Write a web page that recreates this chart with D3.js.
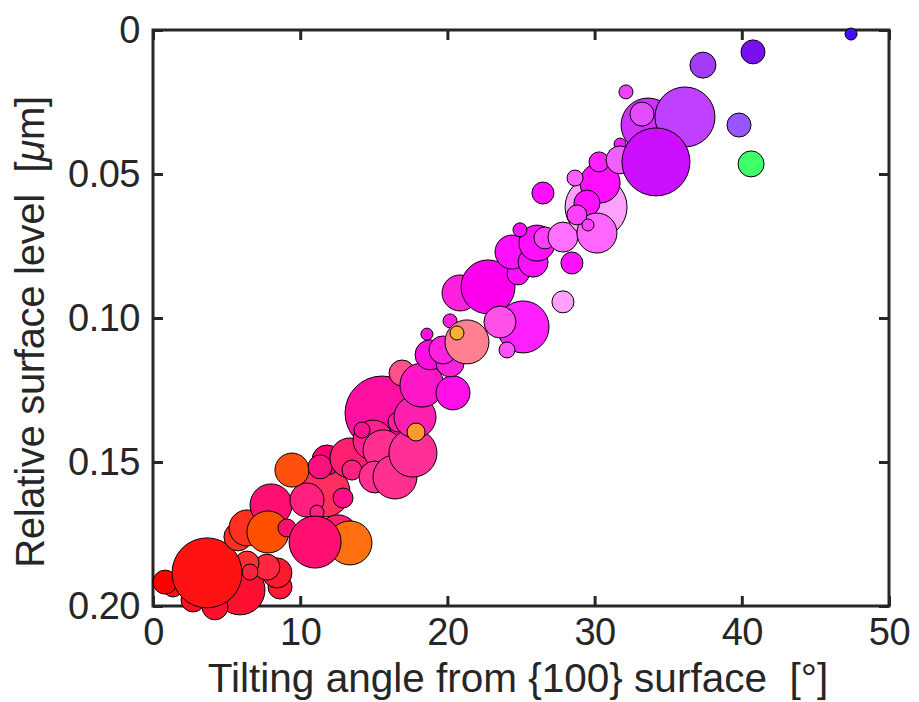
<!DOCTYPE html>
<html>
<head>
<meta charset="utf-8">
<script src="https://cdn.jsdelivr.net/npm/d3@7"></script>
<style>
  html, body { margin: 0; padding: 0; background: #fff; }
  svg { display: block; }
</style>
</head>
<body>
<svg id="chart" width="919" height="702"></svg>
<script>
// ---- data ----
const xTicks = [0, 10, 20, 30, 40, 50];
const yTicks = [0, 0.05, 0.10, 0.15, 0.20];
const yTickLabels = ["0", "0.05", "0.10", "0.15", "0.20"];
const xTitle = "Tilting angle from {100} surface  [°]";
const yTitleParts = ["Relative surface level  [", "μ", "m]"];

// tilting angle (deg)
const angles = [
  5.91, 4.21, 8.63, 8.42, 7.74, 6.39, 6.59, 1.36, 0.82, 2.72,
  3.67, 5.77, 6.39, 8.02, 11.68, 10.46, 12.91, 11.14, 12.57, 13.38,
  7.81, 9.10, 11.01, 9.44, 11.82, 11.35, 13.38, 13.52, 15.56, 14.95,
  14.20, 15.63, 15.08, 16.44, 17.66, 16.64, 17.80, 17.87, 16.92, 18.27,
  20.38, 18.82, 20.18, 19.70, 18.61, 20.18, 21.33, 20.65, 20.86, 22.01,
  22.76, 25.14, 24.05, 23.57, 27.85, 24.80, 24.39, 25.82, 26.09, 26.63,
  24.93, 27.85, 28.46, 26.49, 30.10, 30.37, 30.30, 28.67, 29.48, 30.16,
  28.80, 29.55, 31.73, 31.73, 33.63, 33.22, 34.71, 36.14, 34.17, 32.13,
  37.36, 40.76, 47.42, 39.81, 40.63
];
// relative surface level (um)
const levels = [
  0.1944, 0.2003, 0.1934, 0.1885, 0.1865, 0.1851, 0.1882, 0.1934, 0.1917, 0.1979,
  0.1885, 0.1760, 0.1729, 0.1649, 0.1604, 0.1632, 0.1625, 0.1674, 0.1753, 0.1781,
  0.1743, 0.1729, 0.1778, 0.1528, 0.1493, 0.1517, 0.1486, 0.1528, 0.1330, 0.1424,
  0.1389, 0.1458, 0.1552, 0.1552, 0.1469, 0.1361, 0.1344, 0.1396, 0.1191, 0.1233,
  0.1260, 0.1128, 0.1156, 0.1111, 0.1056, 0.1010, 0.1083, 0.1052, 0.0913, 0.0858,
  0.0892, 0.1031, 0.1111, 0.1014, 0.0944, 0.0847, 0.0771, 0.0806, 0.0740, 0.0722,
  0.0694, 0.0719, 0.0809, 0.0566, 0.0615, 0.0531, 0.0458, 0.0514, 0.0601, 0.0705,
  0.0642, 0.0677, 0.0396, 0.0451, 0.0330, 0.0292, 0.0333, 0.0302, 0.0458, 0.0215,
  0.0122, 0.0076, 0.0014, 0.0330, 0.0465
];
// grain size (arbitrary units)
const sizes = [
  25, 13, 12, 15, 13, 12, 8, 10, 12, 12,
  35, 14, 18, 21, 25, 17, 10, 7, 20, 22,
  21, 9, 26, 17, 15, 12, 20, 10, 37, 20,
  8, 20, 16, 22, 24, 10, 21, 9, 13, 22,
  17, 15, 14, 14, 6, 7, 22, 7, 18, 12,
  27, 26, 8, 16, 11, 11, 17, 15, 18, 11,
  7, 15, 11, 11, 31, 20, 10, 8, 13, 20,
  10, 6, 6, 14, 27, 12, 6, 30, 34, 7,
  13, 12, 6, 12, 13
];
// crystal-orientation colour of each grain
const grainColors = [
  "#ff1030", "#ff1030", "#ff1a35", "#ff1a30", "#ff2840", "#ff3030", "#ff2040", "#ff1010", "#ff0000", "#ff1020",
  "#ff1212", "#ff3020", "#ff3020", "#ff1070", "#ff3060", "#ff2080", "#ff1088", "#ff2080", "#ff2070", "#ff7010",
  "#ff5000", "#ff1070", "#ff1070", "#ff5010", "#ff0070", "#ff1080", "#ff2070", "#ff2080", "#ff10a0", "#ff2090",
  "#ff1090", "#ff3090", "#ff3090", "#ff3090", "#ff3095", "#ff20a0", "#ff20b0", "#ff9a30", "#ff5088", "#ff18c8",
  "#ff10e8", "#ff10e0", "#ff20e0", "#ff20e0", "#ff10e0", "#ff20e0", "#ff8090", "#ffb030", "#ff20e0", "#ff10f0",
  "#ff00ee", "#ff20ff", "#ff50ff", "#ff50e8", "#ffa0ff", "#ff10ff", "#ff10ff", "#ff10ff", "#ff10ff", "#ff40ff",
  "#ff10ff", "#ff70ff", "#ff10ff", "#ff10ff", "#ffa0ff", "#ff10ff", "#ff20ff", "#ff60ff", "#ff10ff", "#ff66ff",
  "#ff40ff", "#ff40ff", "#ee20ff", "#f060ff", "#d030ff", "#e44cff", "#e040ff", "#c040ff", "#cc10ff", "#f040ff",
  "#a33cf5", "#7a10f0", "#4010ff", "#9955ff", "#40ff6a"
];

const points = angles.map((a, i) => ({ x: a, y: levels[i], s: sizes[i], c: grainColors[i] }));

// ---- layout ----
const margin = { left: 153, top: 30, right: 30, bottom: 96 };
const W = 919, H = 702;
const iw = W - margin.left - margin.right;   // 736
const ih = H - margin.top - margin.bottom;   // 576
const ink = "#262626";
const font = "'Liberation Sans', Arial, Helvetica, sans-serif";

const svg = d3.select("#chart");
const g = svg.append("g").attr("transform", `translate(${margin.left},${margin.top})`);

const x = d3.scaleLinear().domain([0, 50]).range([0, iw]);
const y = d3.scaleLinear().domain([0, 0.20]).range([0, ih]);
const r = d3.scaleLinear().domain([0, 40]).range([0, 40]);

// axes (inward ticks on all four sides)
const tick = 10;
const axB = g.append("g").attr("transform", `translate(0,${ih})`)
  .call(d3.axisBottom(x).tickValues(xTicks).tickSizeInner(-tick).tickSizeOuter(0).tickPadding(12).tickFormat(d3.format("d")));
const axT = g.append("g")
  .call(d3.axisTop(x).tickValues(xTicks).tickSizeInner(-tick).tickSizeOuter(0).tickFormat(""));
const axL = g.append("g")
  .call(d3.axisLeft(y).tickValues(yTicks).tickSizeInner(-tick).tickSizeOuter(0).tickPadding(13)
    .tickFormat((d, i) => yTickLabels[i]));
const axR = g.append("g").attr("transform", `translate(${iw},0)`)
  .call(d3.axisRight(y).tickValues(yTicks).tickSizeInner(-tick).tickSizeOuter(0).tickFormat(""));

[axB, axT, axL, axR].forEach(a => {
  a.select(".domain").remove();
  a.selectAll(".tick line").attr("stroke", ink).attr("stroke-width", 3);
  a.selectAll(".tick text").attr("fill", ink).style("font-family", font)
    .style("font-size", "38px").style("letter-spacing", "-0.5px");
});
axB.selectAll(".tick text").attr("dy", "0.71em");

g.append("rect").attr("x", 0).attr("y", 0).attr("width", iw).attr("height", ih)
  .attr("fill", "none").attr("stroke", ink).attr("stroke-width", 3);

// bubbles
g.append("g").selectAll("circle").data(points).join("circle")
  .attr("cx", d => x(d.x)).attr("cy", d => y(d.y)).attr("r", d => r(d.s))
  .attr("fill", d => d.c).attr("stroke", "#000").attr("stroke-width", 1);

// titles
svg.append("text")
  .attr("x", 518).attr("y", 692)
  .attr("text-anchor", "middle").attr("fill", ink)
  .style("font-family", font).style("font-size", "40.5px").style("white-space", "pre")
  .text(xTitle);

const yt = svg.append("text")
  .attr("transform", `translate(44,332) rotate(-90)`)
  .attr("text-anchor", "middle").attr("fill", ink)
  .style("font-family", font).style("font-size", "40px").style("white-space", "pre")
  .style("letter-spacing", "-0.3px");
yt.append("tspan").text(yTitleParts[0]);
yt.append("tspan").style("font-style", "italic").text(yTitleParts[1]);
yt.append("tspan").text(yTitleParts[2]);
</script>
</body>
</html>
